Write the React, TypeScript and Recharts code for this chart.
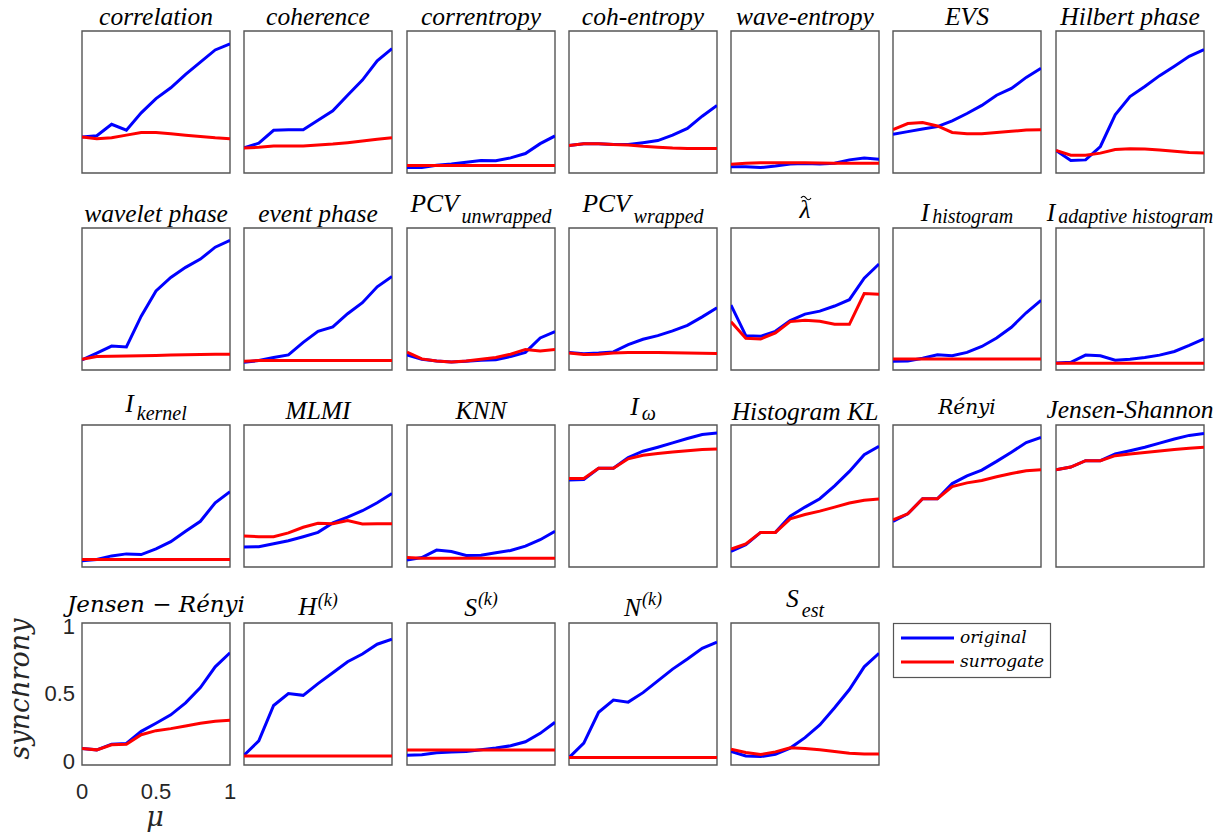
import { LineChart, Line, XAxis, YAxis, ReferenceArea } from 'recharts';

// coupling strength, shared x for all panels
const mu = [0, 0.1, 0.2, 0.3, 0.4, 0.5, 0.6, 0.7, 0.8, 0.9, 1];

const correlationOrig = [0.236, 0.246, 0.33, 0.286, 0.415, 0.52, 0.6, 0.7, 0.79, 0.88, 0.925];
const correlationSurr = [0.236, 0.224, 0.23, 0.25, 0.27, 0.27, 0.26, 0.25, 0.24, 0.23, 0.224];
const coherenceOrig = [0.157, 0.19, 0.286, 0.29, 0.29, 0.36, 0.43, 0.545, 0.657, 0.8, 0.89];
const coherenceSurr = [0.154, 0.16, 0.17, 0.17, 0.17, 0.177, 0.184, 0.194, 0.206, 0.22, 0.23];
const correntropyOrig = [0.01, 0.01, 0.027, 0.037, 0.05, 0.062, 0.06, 0.082, 0.114, 0.187, 0.244];
const correntropySurr = [0.025, 0.025, 0.025, 0.025, 0.025, 0.025, 0.025, 0.025, 0.025, 0.025, 0.025];
const cohEntropyOrig = [0.174, 0.187, 0.187, 0.18, 0.18, 0.194, 0.21, 0.25, 0.3, 0.39, 0.47];
const cohEntropySurr = [0.174, 0.187, 0.187, 0.18, 0.177, 0.167, 0.16, 0.154, 0.152, 0.152, 0.152];
const waveEntropyOrig = [0.017, 0.017, 0.01, 0.022, 0.037, 0.04, 0.037, 0.042, 0.067, 0.08, 0.072];
const waveEntropySurr = [0.035, 0.042, 0.045, 0.045, 0.045, 0.045, 0.044, 0.043, 0.042, 0.042, 0.042];
const evsOrig = [0.256, 0.276, 0.296, 0.313, 0.356, 0.41, 0.47, 0.545, 0.595, 0.677, 0.744];
const evsSurr = [0.29, 0.336, 0.343, 0.318, 0.27, 0.26, 0.26, 0.27, 0.278, 0.288, 0.29];
const hilbertOrig = [0.137, 0.062, 0.067, 0.166, 0.4, 0.535, 0.61, 0.69, 0.76, 0.833, 0.883];
const hilbertSurr = [0.137, 0.102, 0.102, 0.117, 0.144, 0.149, 0.147, 0.14, 0.13, 0.122, 0.117];

const waveletOrig = [0.045, 0.095, 0.147, 0.14, 0.368, 0.555, 0.654, 0.729, 0.79, 0.878, 0.928];
const waveletSurr = [0.05, 0.07, 0.072, 0.074, 0.076, 0.078, 0.08, 0.082, 0.084, 0.086, 0.087];
const eventOrig = [0.027, 0.04, 0.062, 0.082, 0.174, 0.256, 0.289, 0.386, 0.468, 0.585, 0.662];
const eventSurr = [0.035, 0.04, 0.04, 0.04, 0.04, 0.04, 0.04, 0.04, 0.04, 0.04, 0.04];
const pcvUnwrappedOrig = [0.082, 0.05, 0.037, 0.03, 0.035, 0.042, 0.045, 0.07, 0.1, 0.207, 0.254];
const pcvUnwrappedSurr = [0.102, 0.052, 0.037, 0.03, 0.037, 0.05, 0.062, 0.087, 0.122, 0.11, 0.122];
const pcvWrappedOrig = [0.1, 0.09, 0.095, 0.104, 0.157, 0.197, 0.224, 0.259, 0.3, 0.363, 0.43];
const pcvWrappedSurr = [0.095, 0.085, 0.087, 0.095, 0.1, 0.1, 0.1, 0.098, 0.095, 0.093, 0.092];
const lambdaOrig = [0.45, 0.224, 0.219, 0.256, 0.336, 0.383, 0.405, 0.443, 0.49, 0.649, 0.754];
const lambdaSurr = [0.326, 0.204, 0.199, 0.244, 0.328, 0.338, 0.33, 0.308, 0.308, 0.535, 0.53];
const iHistOrig = [0.035, 0.037, 0.057, 0.082, 0.075, 0.1, 0.144, 0.206, 0.286, 0.393, 0.485];
const iHistSurr = [0.052, 0.052, 0.052, 0.052, 0.052, 0.052, 0.052, 0.052, 0.052, 0.052, 0.052];
const iAdaptOrig = [0.022, 0.027, 0.08, 0.075, 0.042, 0.05, 0.062, 0.08, 0.107, 0.152, 0.2];
const iAdaptSurr = [0.02, 0.02, 0.02, 0.02, 0.02, 0.02, 0.02, 0.02, 0.02, 0.02, 0.02];

const iKernelOrig = [0.017, 0.025, 0.052, 0.067, 0.062, 0.104, 0.157, 0.234, 0.308, 0.445, 0.527];
const iKernelSurr = [0.025, 0.025, 0.025, 0.025, 0.025, 0.025, 0.025, 0.025, 0.025, 0.025, 0.025];
const mlmiOrig = [0.117, 0.12, 0.142, 0.164, 0.194, 0.226, 0.296, 0.338, 0.386, 0.445, 0.513];
const mlmiSurr = [0.2, 0.194, 0.194, 0.222, 0.264, 0.293, 0.29, 0.313, 0.288, 0.29, 0.29];
const knnOrig = [0.022, 0.04, 0.095, 0.085, 0.055, 0.057, 0.075, 0.092, 0.124, 0.172, 0.234];
const knnSurr = [0.04, 0.035, 0.035, 0.035, 0.035, 0.035, 0.035, 0.035, 0.035, 0.035, 0.035];
const iOmegaOrig = [0.614, 0.617, 0.7, 0.7, 0.78, 0.826, 0.856, 0.888, 0.92, 0.95, 0.96];
const iOmegaSurr = [0.625, 0.625, 0.7, 0.7, 0.77, 0.796, 0.81, 0.82, 0.83, 0.838, 0.843];
const histKlOrig = [0.085, 0.134, 0.226, 0.226, 0.346, 0.413, 0.475, 0.57, 0.677, 0.8, 0.863];
const histKlSurr = [0.102, 0.14, 0.226, 0.226, 0.326, 0.358, 0.383, 0.413, 0.443, 0.463, 0.472];
const renyiOrig = [0.308, 0.363, 0.475, 0.475, 0.587, 0.644, 0.687, 0.751, 0.819, 0.89, 0.928];
const renyiSurr = [0.318, 0.363, 0.475, 0.475, 0.565, 0.592, 0.61, 0.637, 0.662, 0.681, 0.689];
const jsOrig = [0.689, 0.709, 0.756, 0.756, 0.806, 0.83, 0.856, 0.886, 0.916, 0.943, 0.957];
const jsSurr = [0.689, 0.709, 0.756, 0.756, 0.793, 0.806, 0.816, 0.828, 0.838, 0.848, 0.856];

const jrOrig = [0.092, 0.082, 0.124, 0.129, 0.219, 0.279, 0.341, 0.43, 0.542, 0.696, 0.8];
const jrSurr = [0.092, 0.082, 0.119, 0.124, 0.194, 0.224, 0.239, 0.259, 0.279, 0.293, 0.3];
const hkOrig = [0.042, 0.149, 0.41, 0.498, 0.485, 0.572, 0.652, 0.734, 0.791, 0.863, 0.9];
const hkSurr = [0.037, 0.037, 0.037, 0.037, 0.037, 0.037, 0.037, 0.037, 0.037, 0.037, 0.037];
const skOrig = [0.042, 0.045, 0.06, 0.067, 0.07, 0.082, 0.095, 0.112, 0.142, 0.204, 0.286];
const skSurr = [0.08, 0.08, 0.08, 0.08, 0.08, 0.08, 0.08, 0.08, 0.08, 0.08, 0.08];
const nkOrig = [0.025, 0.132, 0.36, 0.45, 0.435, 0.505, 0.592, 0.679, 0.754, 0.833, 0.878];
const nkSurr = [0.025, 0.025, 0.025, 0.025, 0.025, 0.025, 0.025, 0.025, 0.025, 0.025, 0.025];
const sEstOrig = [0.07, 0.037, 0.032, 0.05, 0.095, 0.172, 0.266, 0.393, 0.528, 0.696, 0.796];
const sEstSurr = [0.087, 0.062, 0.047, 0.067, 0.097, 0.092, 0.082, 0.07, 0.057, 0.052, 0.052];

const yTicks = [0, 0.5, 1];
const xTicks = [0, 0.5, 1];
const seriesNames = ['original', 'surrogate'];

// panel title text: main part and optional sub/superscript
const titleMain = [
  'correlation', 'coherence', 'correntropy', 'coh-entropy', 'wave-entropy', 'EVS', 'Hilbert phase',
  'wavelet phase', 'event phase', 'PCV', 'PCV', 'λ', 'I', 'I',
  'I', 'MLMI', 'KNN', 'I', 'Histogram KL', 'Rényi', 'Jensen-Shannon',
  'Jensen − Rényi', 'H', 'S', 'N', 'S',
];
const titleScript = [
  '', '', '', '', '', '', '',
  '', '', 'unwrapped', 'wrapped', '', 'histogram', 'adaptive histogram',
  'kernel', '', '', 'ω', '', '', '',
  '', '(k)', '(k)', '(k)', 'est',
];

const series: [number[], number[]][] = [
  [correlationOrig, correlationSurr], [coherenceOrig, coherenceSurr], [correntropyOrig, correntropySurr],
  [cohEntropyOrig, cohEntropySurr], [waveEntropyOrig, waveEntropySurr], [evsOrig, evsSurr], [hilbertOrig, hilbertSurr],
  [waveletOrig, waveletSurr], [eventOrig, eventSurr], [pcvUnwrappedOrig, pcvUnwrappedSurr], [pcvWrappedOrig, pcvWrappedSurr],
  [lambdaOrig, lambdaSurr], [iHistOrig, iHistSurr], [iAdaptOrig, iAdaptSurr],
  [iKernelOrig, iKernelSurr], [mlmiOrig, mlmiSurr], [knnOrig, knnSurr], [iOmegaOrig, iOmegaSurr],
  [histKlOrig, histKlSurr], [renyiOrig, renyiSurr], [jsOrig, jsSurr],
  [jrOrig, jrSurr], [hkOrig, hkSurr], [skOrig, skSurr], [nkOrig, nkSurr], [sEstOrig, sEstSurr],
];

// layout
const COL_LEFT = [82, 244, 407, 569, 731, 893, 1056];
const ROW_TOP = [31, 228, 425, 623];
const W = 148;
const H = 142;
const Y_DOMAIN: [number, number] = [-0.03, 1.02];
const BLUE = '#0000ff';
const RED = '#ff0000';
const LINE_W = 3;
const SERIF = '"Liberation Serif", "Times New Roman", serif';
const CM = '"DejaVu Serif", serif';

// title baseline offsets relative to the box top: [main, script]
const titleDy: [number, number][] = [
  [-6, 0], [-6, 0], [-6, 0], [-6, 0], [-6, 0], [-6, 0], [-6, 0],
  [-6, 0], [-6, 0], [-16.5, -5], [-16.5, -5], [-10, 0], [-7, -5.5], [-7, -5.5],
  [-13, -5.5], [-6, 0], [-6, 0], [-10, -5], [-5, 0], [-11, 0], [-7, 0],
  [-11, 0], [-8, -17], [-7, -18], [-7, -18], [-16, -6],
];

function Panel({ idx }: { idx: number }) {
  const row = Math.floor(idx / 7);
  const col = idx % 7;
  const [orig, surr] = series[idx];
  const data = mu.map((m, i) => ({ mu: m, orig: orig[i], surr: surr[i] }));
  const axes = idx === 21;
  const margin = axes
    ? { top: 10, right: 10, bottom: 1, left: 1 }
    : { top: 1, right: 1, bottom: 1, left: 1 };
  const yW = axes ? 45 : 0;
  const xH = axes ? 40 : 0;
  const width = margin.left + yW + W + margin.right;
  const height = margin.top + H + xH + margin.bottom;
  const left = COL_LEFT[col] - margin.left - yW;
  const top = ROW_TOP[row] - margin.top;
  const tickStyle = { fontSize: 22, fill: '#262626', fontFamily: '"Liberation Sans", Arial, sans-serif' };

  return (
    <div style={{ position: 'absolute', left, top, width, height }}>
      <LineChart width={width} height={height} data={data} margin={margin}>
        <XAxis
          dataKey="mu"
          type="number"
          domain={[0, 1]}
          allowDataOverflow
          hide={!axes}
          height={xH}
          ticks={xTicks}
          interval={0}
          axisLine={false}
          tickLine={false}
          tickSize={0}
          tickMargin={18}
          tick={tickStyle}
        />
        <YAxis
          type="number"
          domain={Y_DOMAIN}
          allowDataOverflow
          hide={!axes}
          width={yW}
          ticks={yTicks}
          interval={0}
          axisLine={false}
          tickLine={false}
          tickSize={0}
          tickMargin={7}
          tick={tickStyle}
        />
        <Line
          type="linear"
          dataKey="orig"
          name={seriesNames[0]}
          stroke={BLUE}
          strokeWidth={LINE_W}
          dot={false}
          isAnimationActive={false}
        />
        <Line
          type="linear"
          dataKey="surr"
          name={seriesNames[1]}
          stroke={RED}
          strokeWidth={LINE_W}
          dot={false}
          isAnimationActive={false}
        />
        <ReferenceArea
          x1={0}
          x2={1}
          y1={Y_DOMAIN[0]}
          y2={Y_DOMAIN[1]}
          fill="none"
          fillOpacity={0}
          stroke="#555"
          strokeWidth={1.4}
          ifOverflow="visible"
        />
      </LineChart>
    </div>
  );
}

function Title({ idx }: { idx: number }) {
  const row = Math.floor(idx / 7);
  const col = idx % 7;
  const cx = COL_LEFT[col] + W / 2;
  const [mainDy, scriptDy] = titleDy[idx];
  const main = titleMain[idx];
  const script = titleScript[idx];
  const isCm = main.includes('Rényi');
  const isSup = script === '(k)';
  const y = ROW_TOP[row] + mainDy;
  return (
    <g>
      <text
        x={cx}
        y={y}
        textAnchor="middle"
        fontFamily={isCm ? CM : SERIF}
        fontStyle="italic"
        fontSize={isCm ? (idx === 21 ? 23 : 20) : 25.5}
        fill="#000"
      >
        {main}
        {script && (
          <tspan dx={isSup ? 1 : 3} dy={scriptDy - mainDy} fontSize={isSup ? 18 : 20}>
            {script}
          </tspan>
        )}
      </text>
      {main === 'λ' && (
        // tilde accent over lambda
        <path
          d={`M ${cx - 4} ${y - 20} q 2.5 -3.5 5 0 t 5 0`}
          fill="none"
          stroke="#000"
          strokeWidth={1.2}
        />
      )}
    </g>
  );
}

export default function App() {
  return (
    <div
      style={{
        position: 'absolute',
        left: 0,
        top: 0,
        width: 1227,
        height: 834,
        background: '#fff',
        overflow: 'hidden',
      }}
    >
      {series.map((_, i) => (
        <Panel key={i} idx={i} />
      ))}
      <svg
        width={1227}
        height={834}
        style={{ position: 'absolute', left: 0, top: 0, pointerEvents: 'none' }}
      >
        <defs>
          <clipPath id="ylabClip">
            <rect x={12} y={560} width={40} height={260} />
          </clipPath>
        </defs>
        {series.map((_, i) => (
          <Title key={i} idx={i} />
        ))}
        <g clipPath="url(#ylabClip)">
          <text
            transform="translate(29, 689) rotate(-90)"
            textAnchor="middle"
            fontFamily={CM}
            fontStyle="italic"
            fontSize={27}
            fill="#262626"
          >
            synchrony
          </text>
        </g>
        <text x={155} y={826} textAnchor="middle" fontFamily={CM} fontStyle="italic" fontSize={27} fill="#262626">
          μ
        </text>
        {/* legend */}
        <rect x={893.5} y={623.5} width={157} height={54} fill="#fff" stroke="#555" strokeWidth={1.2} />
        <line x1={901} x2={954} y1={638} y2={638} stroke={BLUE} strokeWidth={LINE_W} />
        <line x1={901} x2={954} y1={662} y2={662} stroke={RED} strokeWidth={LINE_W} />
        <text x={960} y={643} fontFamily={CM} fontStyle="italic" fontSize={17} fill="#000">
          {seriesNames[0]}
        </text>
        <text x={960} y={667} fontFamily={CM} fontStyle="italic" fontSize={17} fill="#000">
          {seriesNames[1]}
        </text>
      </svg>
    </div>
  );
}
